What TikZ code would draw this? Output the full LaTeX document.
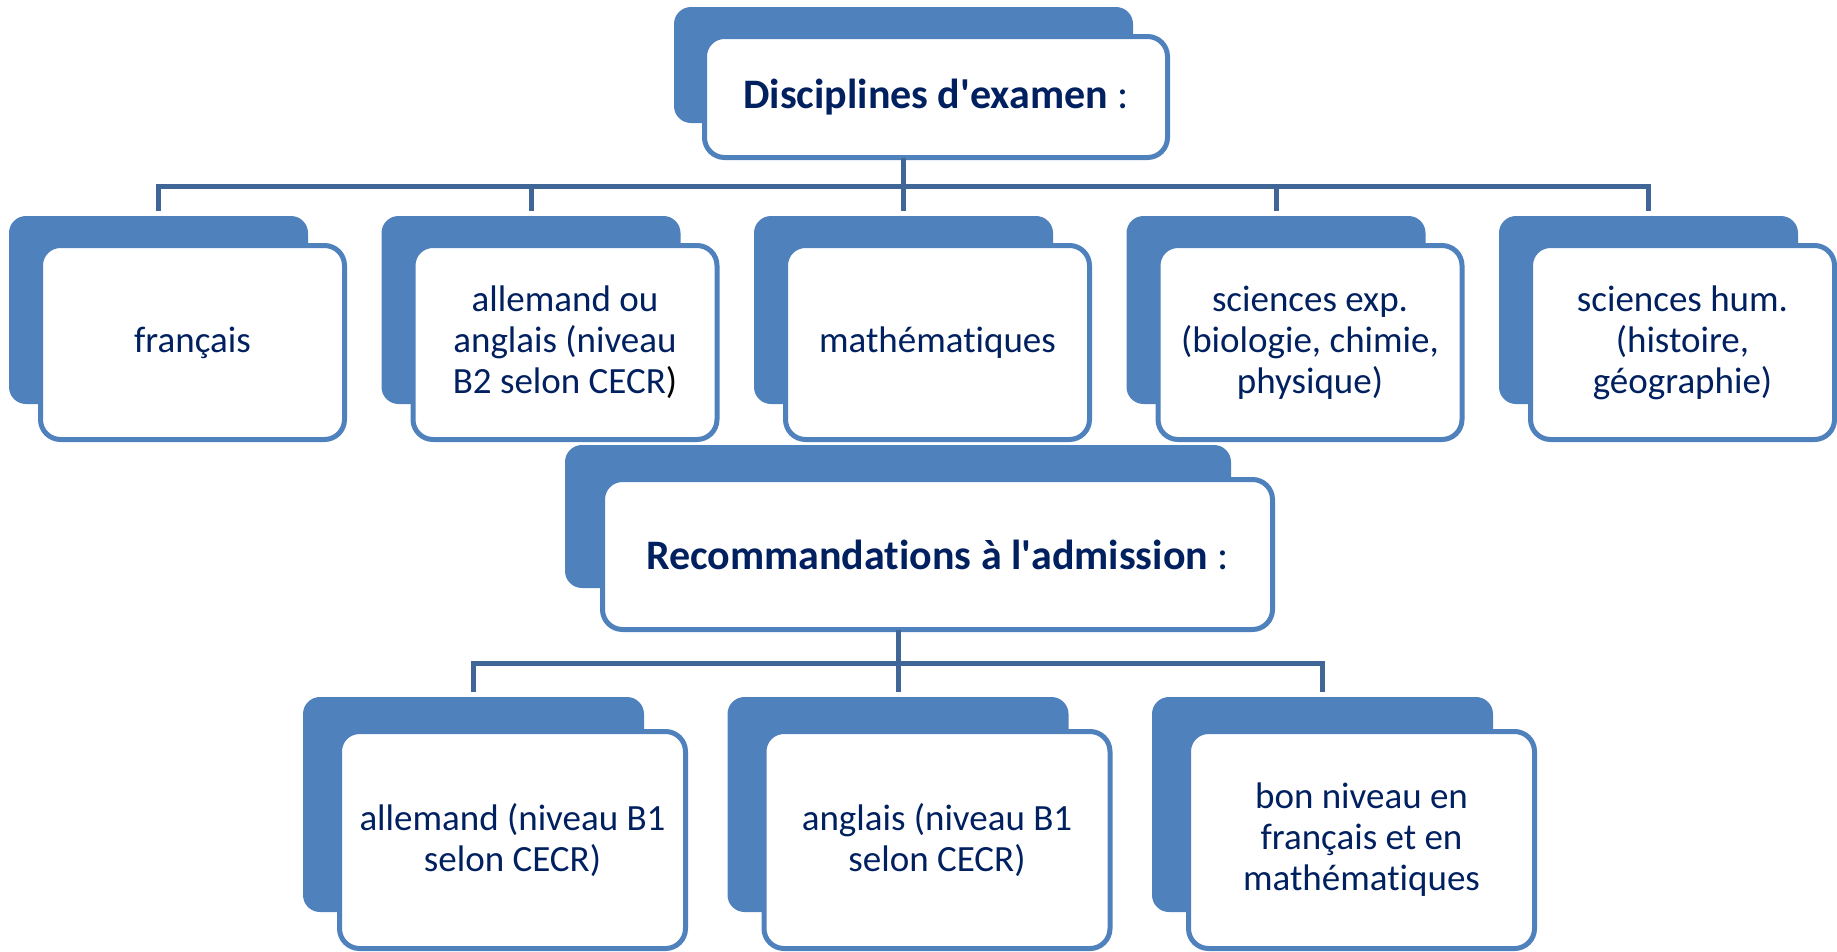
\documentclass[tikz,border=0pt]{standalone}
\usepackage{fontspec}
\defaultfontfeatures[\rmfamily]{Ligatures=NoCommon}
\setmainfont{Carlito}
\definecolor{boxblue}{HTML}{4F81BD}
\definecolor{linecol}{HTML}{3F6696}
\definecolor{navy}{HTML}{002060}
\tikzset{
  backbox/.style={fill=boxblue, draw=none, rounded corners=17pt, inner sep=0pt, outer sep=0pt},
  frontbox/.style={fill=white, draw=boxblue, line width=5pt, rounded corners=20pt, inner sep=0pt, outer sep=0pt,
    text=navy, align=center, font=\fontsize{37}{41}\selectfont},
  titlebox/.style={frontbox, font=\fontsize{42}{50}\selectfont},
  conn/.style={draw=linecol, line width=5pt, shorten >=5pt},
  rowoneback/.style={backbox, minimum width=299pt, minimum height=188pt},
  rowonefront/.style={frontbox, minimum width=304pt, minimum height=194pt},
  rowtwoback/.style={backbox, minimum width=341pt, minimum height=215pt},
  rowtwofront/.style={frontbox, minimum width=346pt, minimum height=217pt},
}
\begin{document}
\begin{tikzpicture}[x=1pt,y=-1pt]
\useasboundingbox (0,0) rectangle (1837,951);
% top
\node[backbox, minimum width=459pt, minimum height=116pt] (topback) at (903.5,65) {};
% row 1 back boxes
\node[rowoneback] (b1back) at (158.5,310) {};
\node[rowoneback] (b2back) at (531,310) {};
\node[rowoneback] (b3back) at (903.5,310) {};
\node[rowoneback] (b4back) at (1276,310) {};
\node[rowoneback] (b5back) at (1648.5,310) {};
\coordinate (bus1) at (0,186);
\node[titlebox, minimum width=463pt, minimum height=121pt] (topfront) at (936,97) {\textbf{Disciplines d\textquotesingle examen} :};
\foreach \c in {b1back,b2back,b3back,b4back,b5back}{
  \draw[conn] (topback.center |- topfront.south) |- (bus1 -| \c.north) -- (\c.north);
}
\node[rowonefront] (b1) at (192.5,342.5) {français};
\node[rowonefront] (b2) at (565,342.5) {allemand ou\\anglais (niveau\\B2 selon CECR{\color{black})}};
\node[rowonefront] (b3) at (937.5,342.5) {mathématiques};
\node[rowonefront] (b4) at (1310,342.5) {sciences exp.\\(biologie, chimie,\\physique)};
\node[rowonefront] (b5) at (1682.5,342.5) {sciences hum.\\(histoire,\\géographie)};
% recommandations
\node[backbox, minimum width=666pt, minimum height=143pt] (recback) at (898,516.5) {};
\node[titlebox, minimum width=670pt, minimum height=150pt] (recfront) at (937.5,554.5) {\textbf{Recommandations à l\textquotesingle admission} :};
% row 2
\node[rowtwoback] (c1back) at (473.5,804.5) {};
\node[rowtwoback] (c2back) at (898,804.5) {};
\node[rowtwoback] (c3back) at (1322.5,804.5) {};
\coordinate (bus2) at (0,663);
\foreach \c in {c1back,c2back,c3back}{
  \draw[conn] (recback.center |- recfront.south) |- (bus2 -| \c.north) -- (\c.north);
}
\node[rowtwofront] (c1) at (512.5,840) {allemand (niveau B1\\selon CECR)};
\node[rowtwofront] (c2) at (937,840) {anglais (niveau B1\\selon CECR)};
\node[rowtwofront] (c3) at (1361.5,840) {bon niveau en\\français et en\\mathématiques};
\end{tikzpicture}
\end{document}
